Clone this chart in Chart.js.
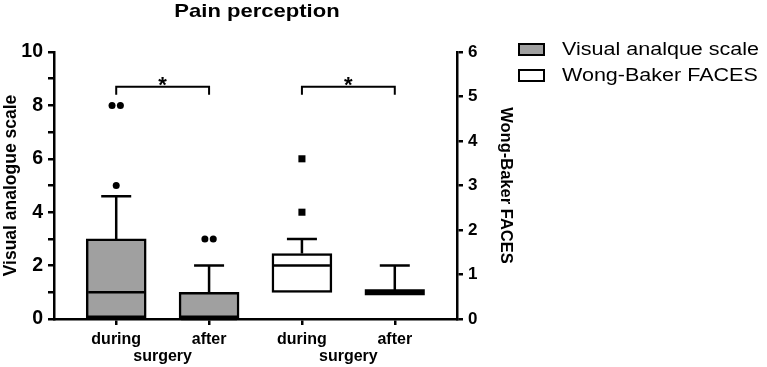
<!DOCTYPE html>
<html>
<head>
<meta charset="utf-8">
<script src="https://cdn.jsdelivr.net/npm/chart.js@4.4.1/dist/chart.umd.min.js"></script>
<style>
  html, body { margin: 0; padding: 0; background: #fff; }
  canvas { display: block; }
</style>
</head>
<body>
<canvas id="chart" width="767" height="367"></canvas>
<script>
const categories = ['during', 'after', 'during', 'after'];
const groupLabels = [{ at: 0.5, text: 'surgery' }, { at: 2.5, text: 'surgery' }];

// Visual analogue scale (left axis) -> categories 0, 1
const vasX = [0, 1];
const vasQ1 = [0, 0];
const vasMedian = [1, 0];
const vasQ3 = [3, 1];
const vasWhiskerLow = [0, 0];
const vasWhiskerHigh = [4.6, 2];
const vasOutliers = [
  { x: -0.045, y: 8 }, { x: 0.045, y: 8 }, { x: 0, y: 5 },
  { x: 0.955, y: 3 }, { x: 1.045, y: 3 }
];

// Wong-Baker FACES (right axis) -> categories 2, 3
const wbfX = [2, 3];
const wbfQ1 = [0.6, 0.6];
const wbfMedian = [1.2, 0.6];
const wbfQ3 = [1.47, 0.6];
const wbfWhiskerLow = [0.6, 0.6];
const wbfWhiskerHigh = [1.8, 1.2];
const wbfOutliers = [{ x: 2, y: 3.6 }, { x: 2, y: 2.4 }];

// significance brackets (left axis values)
const brackets = [
  { from: 0, to: 1, level: 8.7, drop: 8.4, mark: '*' },
  { from: 2, to: 3, level: 8.7, drop: 8.4, mark: '*' }
];

const FONT = '"Liberation Sans", Arial, sans-serif';
const GRAY = '#a0a0a0';

const boxGroups = [
  { xs: vasX, axis: 'y', q1: vasQ1, med: vasMedian, q3: vasQ3, lo: vasWhiskerLow, hi: vasWhiskerHigh },
  { xs: wbfX, axis: 'y1', q1: wbfQ1, med: wbfMedian, q3: wbfQ3, lo: wbfWhiskerLow, hi: wbfWhiskerHigh }
];

// the source picture is a bit wider than tall, so free text gets a small horizontal stretch
function wideText(ctx, text, x, y, sx) {
  ctx.save();
  ctx.translate(x, y);
  ctx.scale(sx, 1);
  ctx.fillText(text, 0, 0);
  ctx.restore();
}

const boxExtras = {
  id: 'boxExtras',
  afterDatasetsDraw(chart) {
    const ctx = chart.ctx;
    const xs = chart.scales.x;
    const half = 28, cap = 15;
    ctx.save();
    ctx.strokeStyle = '#000';
    ctx.lineCap = 'butt';
    boxGroups.forEach(g => {
      const ys = chart.scales[g.axis];
      g.xs.forEach((xv, i) => {
        const px = xs.getPixelForValue(xv);
        const q1 = ys.getPixelForValue(g.q1[i]);
        const q3 = ys.getPixelForValue(g.q3[i]);
        const hi = ys.getPixelForValue(g.hi[i]);
        const lo = ys.getPixelForValue(g.lo[i]);
        const md = ys.getPixelForValue(g.med[i]);
        const flat = g.q1[i] === g.q3[i];
        ctx.lineWidth = 2.5;
        ctx.beginPath();
        ctx.moveTo(px, q3); ctx.lineTo(px, hi);
        ctx.moveTo(px - cap, hi); ctx.lineTo(px + cap, hi);
        if (lo !== q1) {
          ctx.moveTo(px, q1); ctx.lineTo(px, lo);
          ctx.moveTo(px - cap, lo); ctx.lineTo(px + cap, lo);
        }
        ctx.stroke();
        ctx.lineWidth = flat ? 6 : 2.5;
        ctx.beginPath();
        ctx.moveTo(px - (flat ? half + 2 : half), md);
        ctx.lineTo(px + (flat ? half + 2 : half), md);
        ctx.stroke();
      });
    });

    // brackets
    const yl = chart.scales.y;
    ctx.lineWidth = 2;
    ctx.fillStyle = '#000';
    ctx.font = 'bold 22px ' + FONT;
    ctx.textAlign = 'center';
    ctx.textBaseline = 'alphabetic';
    brackets.forEach(b => {
      const x1 = xs.getPixelForValue(b.from), x2 = xs.getPixelForValue(b.to);
      const y = yl.getPixelForValue(b.level), yd = yl.getPixelForValue(b.drop);
      ctx.beginPath();
      ctx.moveTo(x1, yd); ctx.lineTo(x1, y); ctx.lineTo(x2, y); ctx.lineTo(x2, yd);
      ctx.stroke();
      ctx.fillText(b.mark, (x1 + x2) / 2, y + 5);
    });

    // group labels under the ticks
    ctx.font = 'bold 16px ' + FONT;
    ctx.textBaseline = 'middle';
    groupLabels.forEach(g => {
      ctx.fillText(g.text, xs.getPixelForValue(g.at), 357);
    });

    // title
    ctx.font = 'bold 19px ' + FONT;
    wideText(ctx, 'Pain perception', 257, 12, 1.16);

    // legend
    const items = [
      { label: 'Visual analque scale', fill: GRAY },
      { label: 'Wong-Baker FACES', fill: '#fff' }
    ];
    ctx.textAlign = 'left';
    ctx.font = '17.5px ' + FONT;
    items.forEach((it, i) => {
      const y = 44 + i * 26;
      ctx.fillStyle = it.fill;
      ctx.fillRect(519, y, 25, 11);
      ctx.lineWidth = 2;
      ctx.strokeStyle = '#000';
      ctx.strokeRect(519, y, 25, 11);
      ctx.fillStyle = '#000';
      wideText(ctx, it.label, 562, y + 6, 1.23);
    });
    ctx.restore();
  }
};

const axisGrid = { drawOnChartArea: false, drawTicks: true, tickLength: 6, color: '#000', lineWidth: 2.5, offset: false };
const axisBorder = { display: true, color: '#000', width: 2.5 };

new Chart(document.getElementById('chart'), {
  type: 'bar',
  data: {
    datasets: [
      {
        label: 'Visual analque scale',
        data: vasX.map((x, i) => ({ x: x, y: [vasQ1[i], vasQ3[i]] })),
        yAxisID: 'y',
        backgroundColor: GRAY,
        borderColor: '#000',
        borderWidth: 2.5,
        borderSkipped: false,
        barThickness: 60
      },
      {
        label: 'Wong-Baker FACES',
        data: wbfX.map((x, i) => ({ x: x, y: [wbfQ1[i], wbfQ3[i]] })),
        yAxisID: 'y1',
        backgroundColor: '#fff',
        borderColor: '#000',
        borderWidth: 2.5,
        borderSkipped: false,
        barThickness: 60
      },
      {
        type: 'scatter',
        data: vasOutliers,
        yAxisID: 'y',
        pointStyle: 'circle',
        pointRadius: 3.5,
        backgroundColor: '#000',
        borderColor: '#000',
        borderWidth: 0
      },
      {
        type: 'scatter',
        data: wbfOutliers,
        yAxisID: 'y1',
        pointStyle: 'rect',
        pointRadius: 5,
        backgroundColor: '#000',
        borderColor: '#000',
        borderWidth: 0
      }
    ]
  },
  options: {
    responsive: false,
    animation: false,
    devicePixelRatio: 1,
    grouped: false,
    layout: { padding: { top: 52, right: 250, bottom: 0, left: 0 } },
    plugins: {
      legend: { display: false },
      title: { display: false },
      tooltip: { enabled: false }
    },
    scales: {
      x: {
        type: 'linear',
        min: -0.67,
        max: 3.67,
        offset: false,
        grid: axisGrid,
        border: axisBorder,
        afterBuildTicks: s => { s.ticks = categories.map((c, i) => ({ value: i })); },
        afterFit: s => { s.height = 48; },
        ticks: {
          autoSkip: false,
          maxRotation: 0,
          padding: 5,
          color: '#000',
          font: { family: FONT, size: 16, weight: 'bold' },
          callback: v => categories[v]
        }
      },
      y: {
        position: 'left',
        min: 0,
        max: 10,
        grid: axisGrid,
        border: axisBorder,
        afterFit: s => { s.width = 54; },
        ticks: {
          stepSize: 1,
          padding: 5,
          color: '#000',
          font: { family: FONT, size: 19.5, weight: 'bold' },
          callback: v => (v % 2 === 0 ? v : '')
        },
        title: {
          display: true,
          text: 'Visual analogue scale',
          color: '#000',
          padding: { top: 1, bottom: 0 },
          font: { family: FONT, size: 17.5, weight: 'bold' }
        }
      },
      y1: {
        position: 'right',
        min: 0,
        max: 6,
        grid: axisGrid,
        border: axisBorder,
        afterFit: s => { s.width = 60; },
        ticks: {
          stepSize: 1,
          padding: 5,
          color: '#000',
          font: { family: FONT, size: 17, weight: 'bold' }
        },
        title: {
          display: true,
          text: 'Wong-Baker FACES',
          color: '#000',
          padding: { top: 2, bottom: 0 },
          font: { family: FONT, size: 16.5, weight: 'bold' }
        }
      }
    }
  },
  plugins: [boxExtras]
});
</script>
</body>
</html>
